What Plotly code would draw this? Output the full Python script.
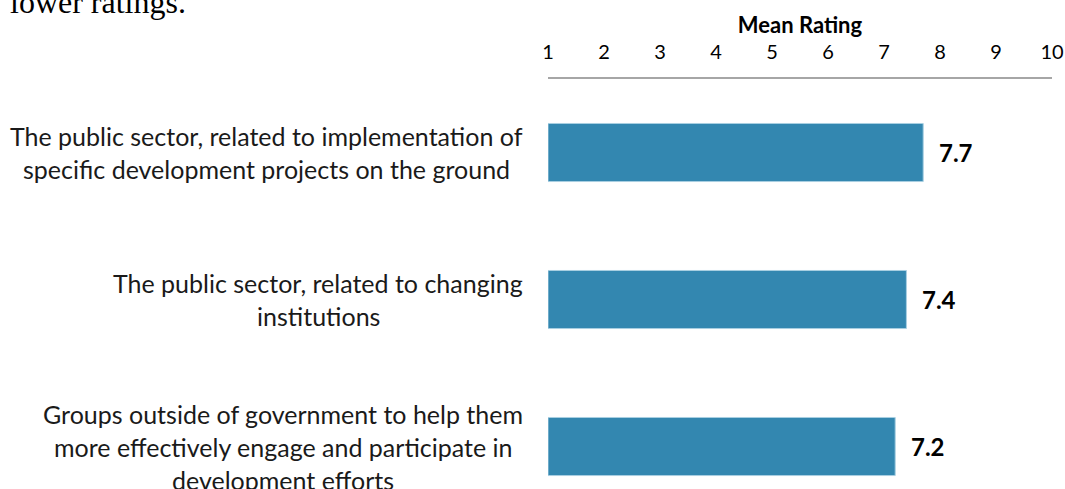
import plotly.graph_objects as go

# ---- data ----
categories = ["Implementation", "Changing institutions", "Groups outside government"]
category_lines = [
    ["The public sector, related to implementation of",
     "specific development projects on the ground"],
    ["The public sector, related to changing",
     "institutions"],
    ["Groups outside of government to help them",
     "more effectively engage and participate in",
     "development efforts"],
]
label_centers_px = [266, 318, 283]  # horizontal centre of each label block
mean_ratings = [7.7, 7.4, 7.2]
tick_values = [1, 2, 3, 4, 5, 6, 7, 8, 9, 10]
axis_title = "Mean Rating"
page_text = "lower ratings."

FONT = "Lato, 'Open Sans', sans-serif"
BAR_COLOR = "#3387B0"
W, H = 1065, 489
ML, MR, MT, MB = 548, 13, 79, 0

fig = go.Figure()
fig.add_trace(go.Bar(
    x=[v - 1 for v in mean_ratings], y=categories, orientation="h",
    base=1,
    marker=dict(color=BAR_COLOR, line=dict(color="#A9CFE2", width=1)),
    width=0.395, hoverinfo="skip",
))

annotations = []
# value labels
for cat, v in zip(categories, mean_ratings):
    annotations.append(dict(
        x=v, y=cat, xref="x", yref="y", text=f"<b>{v:.1f}</b>",
        showarrow=False, xanchor="left", yanchor="middle", xshift=14,
        font=dict(family=FONT, size=24, color="#000000"),
    ))
# category labels (one annotation per line for line spacing)
LINE_GAP = 33
for cat, lines, cx in zip(categories, category_lines, label_centers_px):
    n = len(lines)
    for i, line in enumerate(lines):
        offset = (i - (n - 1) / 2) * LINE_GAP
        annotations.append(dict(
            x=(cx - ML) / (W - ML - MR), y=cat, xref="paper", yref="y",
            text=line, showarrow=False, xanchor="center", yanchor="middle",
            yshift=-offset,
            font=dict(family=FONT, size=25, color="#1a1a1a"),
        ))
# top cut-off page text
annotations.append(dict(
    x=(8 - ML) / (W - ML - MR), y=1, xref="paper", yref="paper",
    text=page_text, showarrow=False, xanchor="left", yanchor="bottom",
    yshift=MT - 22,
    font=dict(family="'Liberation Serif', 'Times New Roman', serif", size=32, color="#000000"),
))

fig.update_layout(
    width=W, height=H,
    margin=dict(l=ML, r=MR, t=MT, b=MB, pad=0),
    paper_bgcolor="white", plot_bgcolor="white",
    showlegend=False,
    annotations=annotations,
    xaxis=dict(
        side="top", range=[1, 10], tickvals=tick_values,
        ticks="outside", ticklen=10, tickcolor="rgba(0,0,0,0)",
        showgrid=False, zeroline=False,
        showline=True, linecolor="#A6A6A6", linewidth=1.5,
        tickfont=dict(family=FONT, size=20, color="#000000"),
        title=dict(text=f"<b>{axis_title}</b>", standoff=0,
                   font=dict(family=FONT, size=22, color="#000000")),
    ),
    yaxis=dict(
        type="category", categoryarray=categories,
        range=[2.289, -0.5], showticklabels=False, showgrid=False,
        zeroline=False, showline=False, ticks="",
    ),
)

fig.write_html(
    "out.html",
    config={"displayModeBar": False},
    post_script="document.body.style.margin='0';document.body.style.overflow='hidden';",
)
